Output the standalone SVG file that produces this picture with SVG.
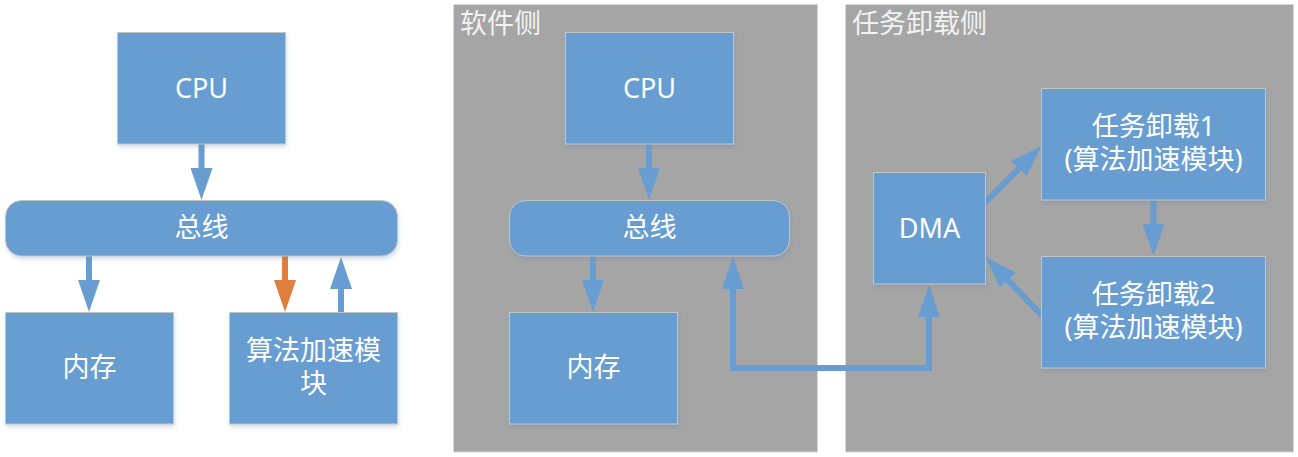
<svg xmlns="http://www.w3.org/2000/svg" width="1298" height="457" viewBox="0 0 1298 457">
<style>
.box{fill:#689DD2;stroke:#C4C4C4;stroke-width:1;filter:url(#sh)}
.panel{fill:#A5A5A5;stroke:#D9D9D9;stroke-width:1}
.t{font-family:"Noto Sans","Noto Sans CJK SC",sans-serif;font-size:27px;fill:#FFFFFF;text-anchor:middle}
.title{font-family:"Noto Sans","Noto Sans CJK SC",sans-serif;font-size:27px;fill:#F2F2F2}
.c{fill:none;stroke:#689DD2;stroke-width:6}
.co{fill:none;stroke:#E07E3C;stroke-width:6}
</style>
<defs>
<filter id="sh" x="-10%" y="-10%" width="125%" height="130%">
<feDropShadow dx="1" dy="3" stdDeviation="2" flood-color="#5a7fa8" flood-opacity="0.25"/>
</filter>
<marker id="ah" markerUnits="userSpaceOnUse" markerWidth="32" markerHeight="22" refX="12" refY="11" orient="auto-start-reverse" viewBox="0 0 32 22">
<path d="M0,0 L32,11 L0,22 z" fill="#689DD2"/>
</marker>
<marker id="aho" markerUnits="userSpaceOnUse" markerWidth="32" markerHeight="22" refX="12" refY="11" orient="auto" viewBox="0 0 32 22">
<path d="M0,0 L32,11 L0,22 z" fill="#E07E3C"/>
</marker>
</defs>
<rect width="1298" height="457" fill="#FFFFFF"/>

<g id="panel-software">
<rect class="panel" x="453.5" y="4.5" width="364" height="447.5"/>
<text class="title" x="460" y="33">软件侧</text>
</g>
<g id="panel-offload">
<rect class="panel" x="845.5" y="4.5" width="448" height="447.5"/>
<text class="title" x="852" y="33">任务卸载侧</text>
</g>

<g id="connectors">
<path class="c" d="M201.5,144 V180" marker-end="url(#ah)"/>
<path class="c" d="M89,256 V292" marker-end="url(#ah)"/>
<path class="co" d="M285,256 V292" marker-end="url(#aho)"/>
<path class="c" d="M341,312 V277" marker-end="url(#ah)"/>
<path class="c" d="M649,144 V180" marker-end="url(#ah)"/>
<path class="c" d="M593,256 V292" marker-end="url(#ah)"/>
<path class="c" d="M733,277 V368 H929 V305" marker-start="url(#ah)" marker-end="url(#ah)"/>
<path class="c" d="M985.7,202 L1027.2,160.2" marker-end="url(#ah)"/>
<path class="c" d="M1153.5,200.5 V236" marker-end="url(#ah)"/>
<path class="c" d="M1041.3,315 L999.5,271.4" marker-end="url(#ah)"/>
</g>

<g id="cpu-left">
<rect class="box" x="117.5" y="32.5" width="168" height="111.5"/>
<text class="t" x="201.5" y="97.5">CPU</text>
</g>
<g id="bus-left">
<rect class="box" x="5.5" y="200.5" width="392" height="55.5" rx="16"/>
<text class="t" x="201.5" y="237">总线</text>
</g>
<g id="mem-left">
<rect class="box" x="5.5" y="312.5" width="168" height="111.5"/>
<text class="t" x="89.5" y="377">内存</text>
</g>
<g id="accel-left">
<rect class="box" x="229.5" y="312.5" width="168" height="111.5"/>
<text class="t" x="313.5" y="360">算法加速模<tspan x="313.5" dy="33">块</tspan></text>
</g>

<g id="cpu-mid">
<rect class="box" x="565.5" y="32.5" width="168" height="111.5"/>
<text class="t" x="649.5" y="97.5">CPU</text>
</g>
<g id="bus-mid">
<rect class="box" x="509.5" y="200.5" width="280" height="55.5" rx="16"/>
<text class="t" x="649.5" y="237">总线</text>
</g>
<g id="mem-mid">
<rect class="box" x="509.5" y="312.5" width="168" height="111.5"/>
<text class="t" x="593.5" y="377">内存</text>
</g>

<g id="dma">
<rect class="box" x="873.5" y="172.5" width="112" height="111.5"/>
<text class="t" x="929.5" y="237.5">DMA</text>
</g>
<g id="task1">
<rect class="box" x="1041.5" y="88.5" width="224" height="111.5"/>
<text class="t" x="1153.5" y="136">任务卸载1<tspan x="1153.5" dy="33">(算法加速模块)</tspan></text>
</g>
<g id="task2">
<rect class="box" x="1041.5" y="256.5" width="224" height="111.5"/>
<text class="t" x="1153.5" y="304">任务卸载2<tspan x="1153.5" dy="33">(算法加速模块)</tspan></text>
</g>
</svg>
